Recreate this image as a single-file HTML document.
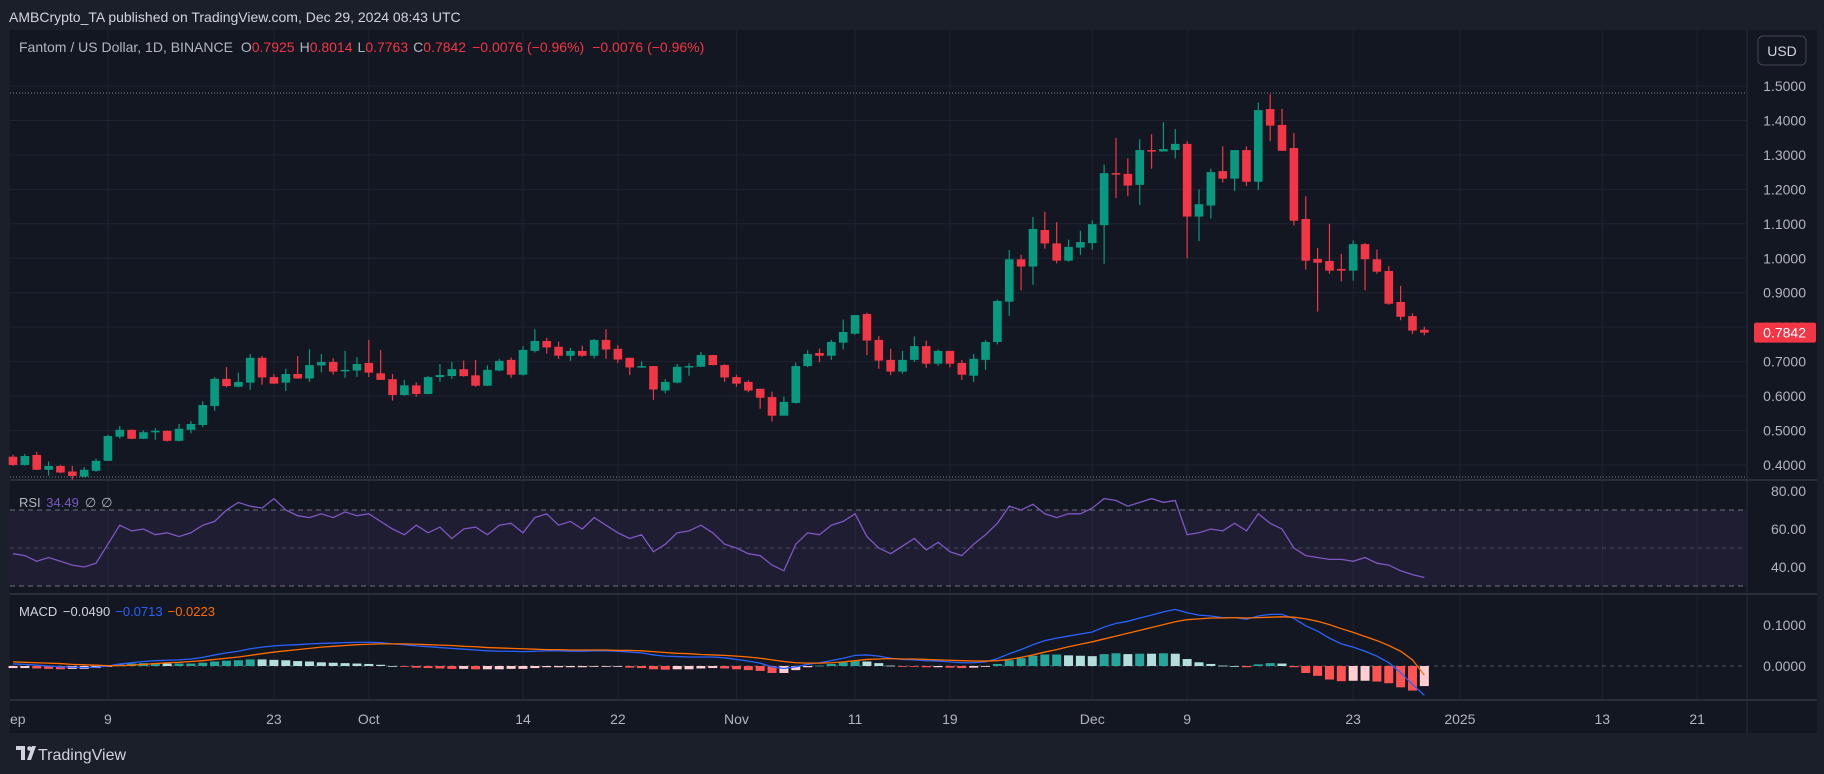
<!DOCTYPE html>
<html><head><meta charset="utf-8"><style>
html,body{margin:0;padding:0;background:#1b1f2a;width:1824px;height:774px;overflow:hidden;font-family:"Liberation Sans",sans-serif}
svg{display:block}
</style></head><body>
<svg id="chart" width="1824" height="774" xmlns="http://www.w3.org/2000/svg">
<rect x="0" y="0" width="1824" height="774" fill="#1b1f2a"/>
<rect x="10" y="30" width="1807" height="703" fill="#131722"/>
<text x="9" y="22" fill="#d1d4dc" font-size="14">AMBCrypto_TA published on TradingView.com, Dec 29, 2024 08:43 UTC</text>
<g id="grid"></g>
<g id="price"></g>
<g id="rsi"></g>
<g id="macd"></g>
<g id="axes"></g>
<text x="19" y="52" font-size="14" fill="#b2b5be">Fantom / US Dollar, 1D, BINANCE <tspan dx="4">O</tspan><tspan fill="#f23645">0.7925</tspan><tspan dx="5">H</tspan><tspan fill="#f23645">0.8014</tspan><tspan dx="5">L</tspan><tspan fill="#f23645">0.7763</tspan><tspan dx="5">C</tspan><tspan fill="#f23645">0.7842</tspan><tspan dx="6" fill="#f23645">−0.0076 (−0.96%)</tspan><tspan dx="8" fill="#f23645">−0.0076 (−0.96%)</tspan></text>
<g><rect x="1758" y="36" width="48" height="29" rx="5" fill="#131722" stroke="#434651"/><text x="1782" y="56" text-anchor="middle" font-size="14" fill="#d1d4dc">USD</text></g>
<text x="19" y="507" font-size="13" fill="#b2b5be">RSI <tspan dx="2" fill="#7e57c2">34.49</tspan><tspan dx="6">∅</tspan><tspan dx="5">∅</tspan></text>
<text x="19" y="616" font-size="13" fill="#d1d4dc">MACD <tspan dx="2">−0.0490</tspan><tspan dx="5" fill="#2962ff">−0.0713</tspan><tspan dx="5" fill="#ff6d00">−0.0223</tspan></text>
<g><path d="M16 746h9v14h-4v-10h-5z M27 760l5-14h4l-5 14z" fill="#d1d4dc"/><circle cx="29.5" cy="748.5" r="2.3" fill="#d1d4dc"/><text x="38" y="760" font-size="16" fill="#d1d4dc">TradingView</text></g>
</svg>
<script>
const opens=[.424,.400,.429,.386,.397,.381,.366,.383,.412,.482,.502,.476,.497,.499,.470,.502,.516,.571,.650,.627,.639,.711,.655,.639,.664,.651,.689,.699,.674,.674,.696,.666,.649,.603,.631,.606,.655,.658,.678,.660,.630,.674,.705,.662,.731,.760,.743,.717,.731,.717,.763,.737,.711,.685,.687,.616,.639,.684,.685,.719,.690,.655,.641,.621,.597,.543,.580,.687,.725,.717,.755,.781,.838,.763,.705,.671,.705,.745,.694,.731,.696,.659,.705,.757,.874,.997,.976,1.082,1.043,.993,1.031,1.044,1.096,1.247,1.245,1.213,1.314,1.310,1.314,1.332,1.121,1.153,1.253,1.231,1.314,1.222,1.433,1.387,1.320,1.114,.998,.992,.969,.964,1.041,.997,.963,.873,.832,.7925];
const closes=[.400,.426,.386,.397,.378,.368,.386,.412,.484,.502,.476,.495,.499,.470,.505,.519,.574,.650,.629,.641,.711,.654,.636,.664,.651,.690,.699,.671,.676,.693,.668,.647,.603,.631,.606,.655,.661,.678,.658,.630,.676,.702,.662,.734,.760,.741,.717,.731,.717,.763,.735,.706,.683,.687,.619,.641,.685,.687,.719,.690,.654,.636,.616,.595,.543,.583,.687,.722,.717,.757,.786,.835,.761,.703,.671,.705,.745,.694,.731,.694,.662,.708,.757,.876,.997,.976,1.085,1.043,.993,1.033,1.047,1.099,1.247,1.243,1.211,1.314,1.310,1.317,1.332,1.121,1.157,1.250,1.231,1.314,1.222,1.430,1.385,1.312,1.109,.993,.987,.964,.964,1.041,.997,.961,.868,.830,.790,.7842];
const highs=[.430,.432,.438,.410,.400,.397,.394,.418,.488,.513,.503,.500,.507,.500,.519,.527,.585,.655,.684,.668,.722,.716,.664,.679,.716,.736,.722,.710,.731,.713,.763,.734,.664,.647,.640,.658,.693,.699,.703,.705,.689,.708,.712,.745,.794,.769,.758,.740,.746,.765,.794,.748,.711,.701,.687,.649,.693,.695,.728,.719,.692,.662,.646,.621,.613,.598,.697,.733,.738,.763,.822,.835,.842,.774,.737,.731,.773,.761,.735,.731,.705,.722,.762,.880,1.024,1.010,1.120,1.135,1.105,1.054,1.080,1.110,1.272,1.349,1.290,1.345,1.360,1.395,1.375,1.340,1.200,1.260,1.325,1.314,1.325,1.452,1.476,1.434,1.364,1.180,1.030,1.100,1.013,1.052,1.044,1.025,.977,.920,.840,.8014];
const lows=[.397,.398,.385,.369,.376,.357,.364,.380,.412,.476,.475,.475,.473,.468,.468,.492,.510,.557,.625,.625,.618,.633,.636,.615,.650,.641,.669,.662,.653,.656,.655,.647,.587,.601,.598,.605,.641,.650,.656,.627,.629,.672,.653,.659,.726,.723,.708,.702,.714,.709,.708,.696,.661,.682,.589,.608,.637,.659,.684,.689,.641,.627,.611,.563,.526,.543,.578,.684,.698,.705,.735,.778,.719,.679,.661,.665,.699,.682,.688,.683,.647,.641,.676,.750,.833,.907,.923,1.028,.985,.990,1.010,1.025,.984,1.175,1.180,1.155,1.260,1.310,1.290,1.000,1.050,1.115,1.220,1.195,1.210,1.198,1.340,1.312,1.095,.967,.845,.955,.933,.935,.907,.955,.865,.820,.780,.7763];
const rsiValues=[47,46,43,45,43,41,40,42,52,62,59,60,57,58,56,58,62,64,70,74,72,71,76,70,67,66,68,66,69,67,68,64,60,57,62,58,61,55,60,61,57,62,63,58,66,68,62,64,60,66,62,58,55,57,48,52,58,59,62,58,52,50,47,46,41,38,52,58,57,62,64,68,56,50,47,51,55,49,53,48,46,52,57,63,72,70,73,68,66,68,68,71,76,75,72,74,76,74,75,57,58,60,59,63,59,68,63,60,50,46,45,44,44,43,45,42,41,38,36,34.49];
const macdValues=[.005,.004,.002,0,-.002,-.003,-.004,-.003,0,.005,.008,.011,.013,.014,.015,.017,.021,.027,.032,.036,.042,.046,.049,.051,.052,.054,.055,.056,.057,.058,.058,.057,.054,.052,.049,.047,.045,.043,.041,.039,.037,.036,.036,.035,.036,.037,.037,.036,.036,.037,.037,.036,.034,.032,.027,.024,.023,.022,.022,.022,.020,.016,.012,.007,-.002,-.006,-.002,.004,.008,.013,.019,.026,.027,.024,.019,.016,.015,.013,.012,.010,.008,.008,.010,.018,.030,.040,.052,.062,.068,.073,.078,.083,.095,.104,.109,.117,.124,.132,.138,.130,.124,.122,.118,.118,.114,.122,.126,.126,.116,.098,.085,.068,.054,.046,.036,.024,.008,-.016,-.045,-.0713];
const signalValues=[.010,.009,.008,.007,.006,.004,.003,.002,.001,.001,.002,.004,.006,.008,.009,.011,.013,.016,.019,.022,.026,.030,.034,.037,.040,.043,.046,.048,.050,.052,.053,.054,.054,.054,.053,.052,.051,.050,.048,.047,.045,.044,.043,.042,.041,.040,.040,.039,.039,.039,.039,.038,.038,.037,.035,.033,.031,.030,.028,.027,.026,.024,.022,.019,.015,.011,.008,.007,.007,.008,.010,.013,.016,.017,.018,.017,.017,.016,.015,.014,.013,.012,.012,.013,.016,.021,.027,.034,.040,.047,.053,.059,.066,.073,.080,.087,.094,.101,.108,.113,.115,.117,.117,.118,.117,.118,.119,.120,.119,.115,.109,.101,.091,.082,.072,.062,.050,.036,.015,-.0223];
const priceTicks=[1.5,1.4,1.3,1.2,1.1,1.0,0.9,0.8,0.7,0.6,0.5,0.4];
const rsiTicks=[80,60,40];
const macdTicks=[0.1,0];
const timeLabels=["ep","9","23","Oct","14","22","Nov","11","19","Dec","9","23","2025","13","21"];
const timeIndex=[-0.5,8,22,30,43,51,61,71,79,91,99,113,122,134,142];

const NS="http://www.w3.org/2000/svg";
function mk(parent,tag,attrs){const e=document.createElementNS(NS,tag);for(const k in attrs)e.setAttribute(k,attrs[k]);parent.appendChild(e);return e;}
const xOf=i=>13+11.86*i;
const yP=p=>86+(1.5-p)*344.5;
const yR=v=>548-(v-50)*1.9;
const yM=v=>666-v*410;
const grid=document.getElementById('grid'),price=document.getElementById('price'),rsi=document.getElementById('rsi'),macd=document.getElementById('macd'),axes=document.getElementById('axes');
const PR=1746;
// vertical grid
timeIndex.forEach((ti,k)=>{if(k===0)return;const x=xOf(ti);if(x>PR)return;
 const l=mk(grid,'line',{x1:x,x2:x,y1:30,y2:700,stroke:'#1f2330','stroke-width':1});
 
 });
// price grid + labels
priceTicks.forEach(p=>{const y=yP(p);
 const l=mk(grid,'line',{x1:10,x2:PR,y1:y,y2:y,stroke:'#1f2330','stroke-width':1});
 
 
 const t=mk(axes,'text',{x:1806,y:y+5,'text-anchor':'end','font-size':14,fill:'#b2b5be'});
 t.textContent=p.toFixed(4);
 
 });
// pane separators and bounds
[[480],[594],[700]].forEach(([y])=>{const l=mk(grid,'line',{x1:10,x2:1817,y1:y,y2:y,stroke:'#2a2e39','stroke-width':2});
 
 });
[93,477].forEach(y=>{const l=mk(grid,'line',{x1:10,x2:PR,y1:y,y2:y,stroke:'#787b86','stroke-width':1,'stroke-dasharray':'1 2'});
 
 });
const sep=mk(grid,'line',{x1:PR+1,x2:PR+1,y1:30,y2:733,stroke:'#2a2e39','stroke-width':1});


// candles
opens.forEach((o,i)=>{const c=closes[i],x=xOf(i),up=c>=o,col=up?'#089981':'#f23645';
 const g=mk(price,'g',{});
 
 
 mk(g,'line',{x1:x,x2:x,y1:yP(highs[i]),y2:yP(lows[i]),stroke:col,'stroke-width':1.2});
 const top=yP(Math.max(o,c)),bot=yP(Math.min(o,c));
 mk(g,'rect',{x:x-4.3,y:top,width:8.6,height:Math.max(1.5,bot-top),fill:col});});
// last price label
const lp=closes[closes.length-1],ly=yP(lp);
const lb=mk(axes,'g',{});


mk(lb,'rect',{x:1754,y:ly-10,width:62,height:20,fill:'#f23645',rx:2});
const lt=mk(lb,'text',{x:1806,y:ly+5,'text-anchor':'end','font-size':14,fill:'#ffffff'});lt.textContent=lp.toFixed(4);
// RSI pane
const band=mk(rsi,'rect',{x:10,y:yR(70),width:PR-10,height:yR(30)-yR(70),fill:'#7e57c2','fill-opacity':0.1});


[70,50,30].forEach(v=>{const l=mk(rsi,'line',{x1:10,x2:PR,y1:yR(v),y2:yR(v),stroke:'#787b86','stroke-width':1,'stroke-dasharray':v===50?'4 4':'5 4','stroke-opacity':v===50?0.5:0.9});
 
 });
const rl=mk(rsi,'polyline',{points:rsiValues.map((v,i)=>xOf(i)+','+yR(v)).join(' '),fill:'none',stroke:'#7e57c2','stroke-width':1.3});


rsiTicks.forEach(v=>{const t=mk(axes,'text',{x:1806,y:yR(v)+5,'text-anchor':'end','font-size':14,fill:'#b2b5be'});t.textContent=v.toFixed(2);
 
 });
// MACD pane
const zl=mk(macd,'line',{x1:10,x2:PR,y1:yM(0),y2:yM(0),stroke:'#787b86','stroke-width':1,'stroke-dasharray':'4 4','stroke-opacity':0.6});


macdValues.forEach((m,i)=>{const h=m-signalValues[i],ph=i>0?macdValues[i-1]-signalValues[i-1]:h;
 let col;if(h>=0)col=h>=ph?'#26a69a':'#b2dfdb';else col=h<ph?'#ff5252':'#ffcdd2';
 const y0=yM(0),y1=yM(h);
 const r=mk(macd,'rect',{x:xOf(i)-4.5,y:Math.min(y0,y1),width:9,height:Math.max(0.8,Math.abs(y1-y0)),fill:col});
 
 });
const ml=mk(macd,'polyline',{points:macdValues.map((v,i)=>xOf(i)+','+yM(v)).join(' '),fill:'none',stroke:'#2962ff','stroke-width':1.3});


const sl=mk(macd,'polyline',{points:signalValues.map((v,i)=>xOf(i)+','+yM(v)).join(' '),fill:'none',stroke:'#ff6d00','stroke-width':1.3});


macdTicks.forEach(v=>{const t=mk(axes,'text',{x:1806,y:yM(v)+5,'text-anchor':'end','font-size':14,fill:'#b2b5be'});t.textContent=v.toFixed(4);
 
 });
// time axis
timeLabels.forEach((s,k)=>{const x=xOf(timeIndex[k]);
 const t=mk(axes,'text',{x:k===0?10:x,y:724,'text-anchor':k===0?'start':'middle','font-size':14,fill:'#b2b5be'});t.textContent=s;
 
 });
</script>
</body></html>
